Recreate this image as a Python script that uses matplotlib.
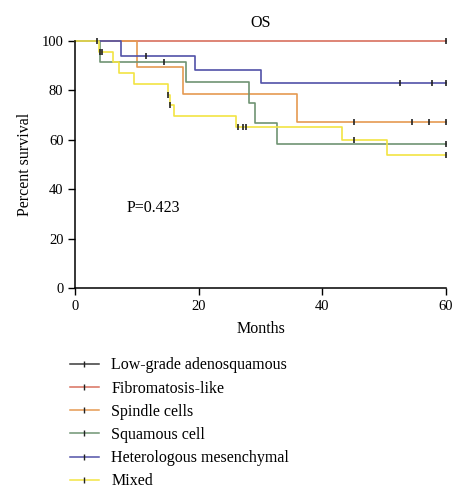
import matplotlib
matplotlib.use("Agg")
import matplotlib.pyplot as plt
from matplotlib.lines import Line2D

plt.rcParams['font.family'] = ['Liberation Serif', 'DejaVu Serif']

# --- Data ---
groups = ["Low-grade adenosquamous", "Fibromatosis-like", "Spindle cells",
          "Squamous cell", "Heterologous mesenchymal", "Mixed"]
colors = ["#3a3a3a", "#d8705e", "#e59a52", "#6f9473", "#5252a8", "#f2e443"]

# step times (months) and survival (%) after each step
lowgrade_t = [0, 3.6]
lowgrade_s = [100, 100]
lowgrade_cens_t = [3.6]
lowgrade_cens_s = [100]

fibro_t = [0, 60]
fibro_s = [100, 100]
fibro_cens_t = [60]
fibro_cens_s = [100]

spindle_t = [0, 10.0, 17.5, 35.9, 60]
spindle_s = [100, 89.5, 78.6, 67.3, 67.3]
spindle_cens_t = [45.1, 54.5, 57.3, 60]
spindle_cens_s = [67.3, 67.3, 67.3, 67.3]

squamous_t = [0, 4.0, 18.0, 28.2, 29.1, 32.6, 60]
squamous_s = [100, 91.7, 83.3, 75.0, 66.7, 58.3, 58.3]
squamous_cens_t = [14.4, 60]
squamous_cens_s = [91.7, 58.3]

hetero_t = [0, 7.4, 19.4, 30.1, 60]
hetero_s = [100, 94.1, 88.2, 83.0, 83.0]
hetero_cens_t = [11.5, 52.6, 57.8, 60]
hetero_cens_s = [94.1, 83.0, 83.0, 83.0]

mixed_t = [0, 3.8, 6.1, 7.1, 9.5, 15.0, 15.3, 16.0, 26.0, 43.1, 50.4, 60]
mixed_s = [100, 95.7, 91.3, 87.0, 82.6, 78.3, 73.9, 69.6, 65.2, 59.8, 53.8, 53.8]
mixed_cens_t = [4.0, 4.3, 15.0, 15.3, 26.3, 27.2, 27.7, 45.1, 60]
mixed_cens_s = [95.7, 95.7, 78.3, 73.9, 65.2, 65.2, 65.2, 59.8, 53.8]

curves = [
    (lowgrade_t, lowgrade_s, lowgrade_cens_t, lowgrade_cens_s),
    (fibro_t, fibro_s, fibro_cens_t, fibro_cens_s),
    (spindle_t, spindle_s, spindle_cens_t, spindle_cens_s),
    (squamous_t, squamous_s, squamous_cens_t, squamous_cens_s),
    (hetero_t, hetero_s, hetero_cens_t, hetero_cens_s),
    (mixed_t, mixed_s, mixed_cens_t, mixed_cens_s),
]

fig = plt.figure(figsize=(4.7, 5.0), dpi=100)
ax = fig.add_axes([0.16, 0.424, 0.789, 0.494])

# red at the bottom, yellow on top, as in the reference
for i in [1, 2, 4, 3, 0, 5]:
    t, s, ct, cs = curves[i]
    ax.step(t, s, where='post', color=colors[i], lw=1.2, zorder=2 + i * 0.1,
            clip_on=False)
    ax.plot(ct, cs, linestyle='none', marker='|', markersize=5,
            markeredgewidth=1.2, color='#222222', zorder=4, clip_on=False)

ax.set_xlim(0, 60)
ax.set_ylim(0, 100)
ax.set_xticks([0, 20, 40, 60])
ax.set_yticks([0, 20, 40, 60, 80, 100])
ax.spines['top'].set_visible(False)
ax.spines['right'].set_visible(False)
ax.tick_params(direction='out', length=5, width=1, labelsize=10.5)
for sp in ['left', 'bottom']:
    ax.spines[sp].set_linewidth(1.1)

ax.set_title("OS", fontsize=11.5, pad=10)
ax.set_xlabel("Months", fontsize=11.5, labelpad=6)
ax.set_ylabel("Percent survival", fontsize=11.5, labelpad=6)
ax.text(12.6, 32.4, "P=0.423", fontsize=11.5, ha='center', va='center')

handles = [Line2D([0], [0], color=c, lw=1.1, marker='|', markersize=5,
                  markeredgecolor='#222222', markeredgewidth=1.0)
           for c in colors]
fig.legend(handles, groups, loc='upper left', bbox_to_anchor=(0.135, 0.298),
           frameon=False, fontsize=11.5, handlelength=1.8, labelspacing=0.45,
           handletextpad=0.8, borderaxespad=0)

fig.savefig("out.png", dpi=100)
